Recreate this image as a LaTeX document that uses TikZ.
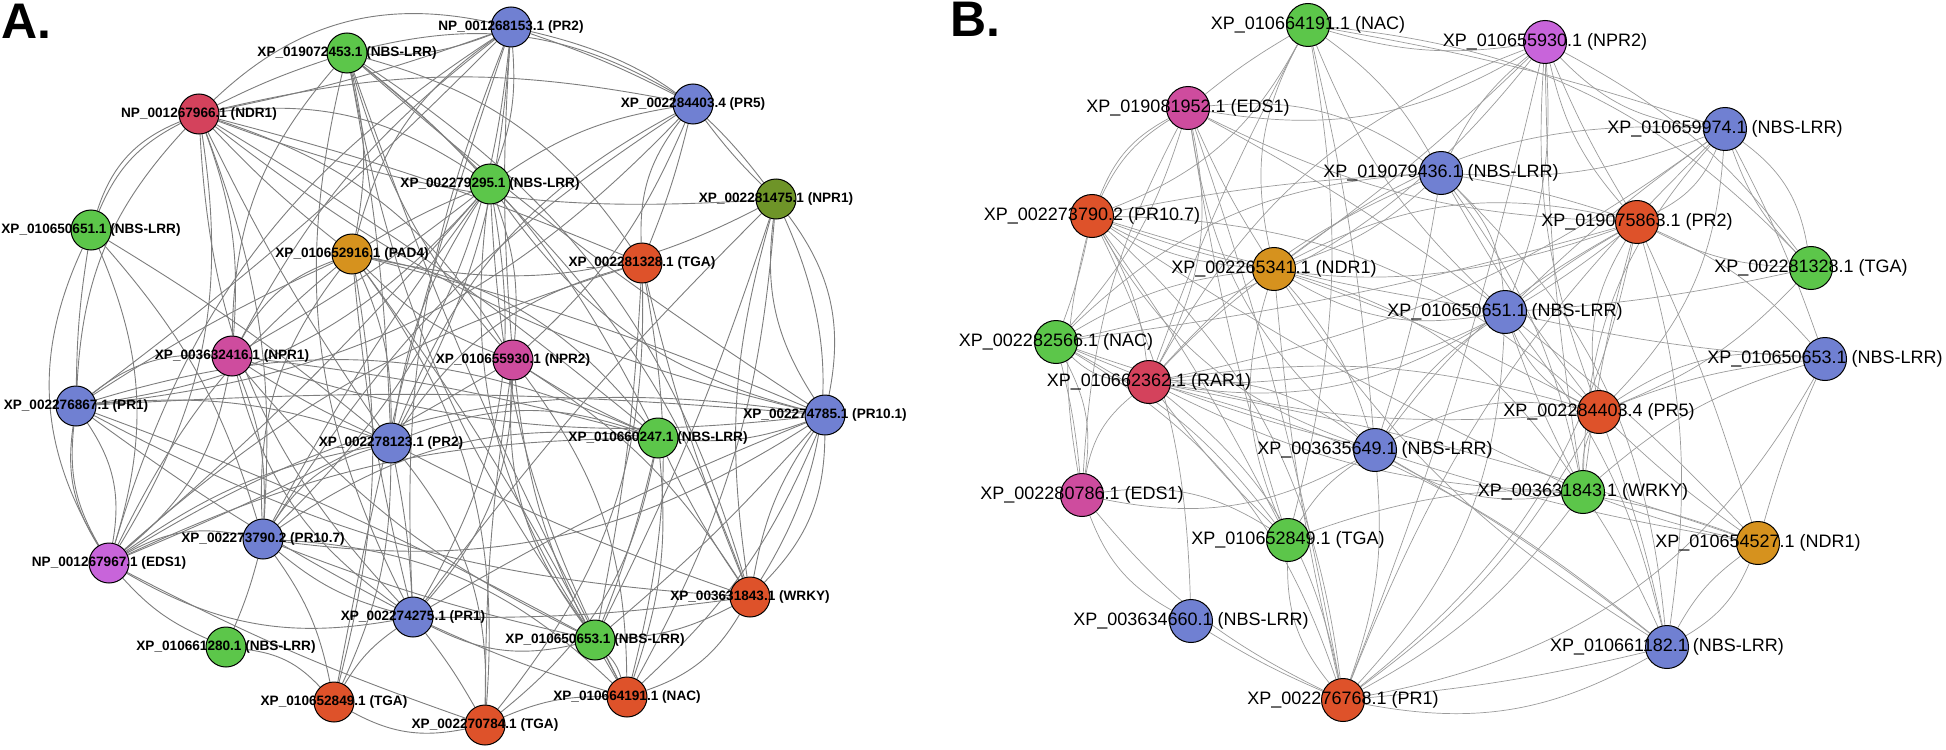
\documentclass[tikz,border=0pt]{standalone}
\usepackage{fontspec}
\setmainfont{Liberation Sans}
\usetikzlibrary{backgrounds}
\definecolor{cblue}{RGB}{112,128,210}
\definecolor{cgreen}{RGB}{92,198,74}
\definecolor{cred}{RGB}{222,82,42}
\definecolor{ccrim}{RGB}{212,66,92}
\definecolor{cmag}{RGB}{206,76,158}
\definecolor{cvio}{RGB}{200,100,218}
\definecolor{cgold}{RGB}{214,146,30}
\definecolor{colive}{RGB}{110,148,40}
\definecolor{aedgec}{RGB}{125,125,125}
\definecolor{bedgec}{RGB}{155,155,155}
\tikzset{
  anode/.style={circle,draw=black,line width=0.5pt,minimum size=20pt,inner sep=0pt},
  bnode/.style={circle,draw=black,line width=0.5pt,minimum size=21.5pt,inner sep=0pt},
  alab/.style={font=\fontsize{6.8}{7}\selectfont\bfseries,inner sep=0pt},
  blab/.style={font=\fontsize{9}{10}\selectfont,inner sep=0pt},
  aedge/.style={draw=aedgec,line width=0.45pt},
  bedge/.style={draw=bedgec,line width=0.35pt},
  panel/.style={font=\fontsize{25}{26}\selectfont\bfseries,inner sep=0pt}
}
\begin{document}
\begin{tikzpicture}[x=0.5pt,y=-0.5pt]
\path[use as bounding box] (0,0) rectangle (1946,749);
\node[panel] (A) at (26.5,21.5) {A.};
\node[panel] (B) at (975,19.5) {B.};
% ---------- Panel A nodes ----------
\foreach \n/\x/\y/\c in {
 a1/347/53/cgreen, a2/511/27/cblue, a3/199/114/ccrim, a4/693/104/cblue,
 a5/490/184/cgreen, a6/91/230/cgreen, a7/776/199/colive, a8/352/254/cgold,
 a9/642/263/cred, a10/232/356/cmag, a11/513/360/cmag, a12/76/406/cblue,
 a13/825/415/cblue, a14/391/443/cblue, a15/658/438/cgreen, a16/263/539/cblue,
 a17/109/563/cvio, a18/750/597/cred, a19/413/617/cblue, a20/595/640/cgreen,
 a21/226/647/cgreen, a22/334/702/cred, a23/627/697/cred, a24/485/725/cred}
{\node[anode,fill=\c] (\n) at (\x,\y) {};}
% ---------- Panel B nodes ----------
\foreach \n/\x/\y/\c in {
 b1/1308/25/cgreen, b2/1545/42/cvio, b3/1188/108/cmag, b4/1725/129/cblue,
 b5/1441/173/cblue, b6/1092/216/cred, b7/1637/222/cred, b8/1274/269/cgold,
 b9/1811/268/cgreen, b10/1505/312/cblue, b11/1056/342/cgreen, b12/1825/359/cblue,
 b13/1149/382/ccrim, b14/1599/412/cred, b15/1375/450/cblue, b16/1082/495/cmag,
 b17/1583/492/cgreen, b18/1288/540/cgreen, b19/1758/543/cgold, b20/1191/621/cblue,
 b21/1667/647/cblue, b22/1343/700/cred}
{\node[bnode,fill=\c] (\n) at (\x,\y) {};}
% ---------- labels ----------
\foreach \n/\t in {
 a1/XP\_019072453.1 (NBS-LRR), a2/NP\_001268153.1 (PR2), a3/NP\_001267966.1 (NDR1),
 a4/XP\_002284403.4 (PR5), a5/XP\_002279295.1 (NBS-LRR), a6/XP\_010650651.1 (NBS-LRR),
 a7/XP\_002281475.1 (NPR1), a8/XP\_010652916.1 (PAD4), a9/XP\_002281328.1 (TGA),
 a10/XP\_003632416.1 (NPR1), a11/XP\_010655930.1 (NPR2), a12/XP\_002276867.1 (PR1),
 a13/XP\_002274785.1 (PR10.1), a14/XP\_002278123.1 (PR2), a15/XP\_010660247.1 (NBS-LRR),
 a16/XP\_002273790.2 (PR10.7), a17/NP\_001267967.1 (EDS1), a18/XP\_003631843.1 (WRKY),
 a19/XP\_002274275.1 (PR1), a20/XP\_010650653.1 (NBS-LRR), a21/XP\_010661280.1 (NBS-LRR),
 a22/XP\_010652849.1 (TGA), a23/XP\_010664191.1 (NAC), a24/XP\_002270784.1 (TGA)}
{\node[alab] (\n t) at (\n) {\t};}
\foreach \n/\t in {
 b1/XP\_010664191.1 (NAC), b2/XP\_010655930.1 (NPR2), b3/XP\_019081952.1 (EDS1),
 b4/XP\_010659974.1 (NBS-LRR), b5/XP\_019079436.1 (NBS-LRR), b6/XP\_002273790.2 (PR10.7),
 b7/XP\_019075863.1 (PR2), b8/XP\_002265341.1 (NDR1), b9/XP\_002281328.1 (TGA),
 b10/XP\_010650651.1 (NBS-LRR), b11/XP\_002282566.1 (NAC), b12/XP\_010650653.1 (NBS-LRR),
 b13/XP\_010662362.1 (RAR1), b14/XP\_002284403.4 (PR5), b15/XP\_003635649.1 (NBS-LRR),
 b16/XP\_002280786.1 (EDS1), b17/XP\_003631843.1 (WRKY), b18/XP\_010652849.1 (TGA),
 b19/XP\_010654527.1 (NDR1), b20/XP\_003634660.1 (NBS-LRR), b21/XP\_010661182.1 (NBS-LRR),
 b22/XP\_002276768.1 (PR1)}
{\node[blab] (\n t) at (\n) {\t};}
% ---------- edges ----------
\begin{pgfonlayer}{background}
\foreach \p/\q [count=\i] in {
 a1/a2,a1/a3,a1/a5,a1/a8,a1/a9,a1/a10,a1/a11,a1/a13,a1/a14,a1/a15,a1/a18,a1/a19,a1/a20,a1/a23,
 a2/a4,a2/a5,a2/a7,a2/a8,a2/a10,a2/a11,a2/a12,a2/a14,a2/a16,a2/a17,a2/a19,a2/a22,a2/a3,
 a3/a4,a3/a5,a3/a6,a3/a7,a3/a8,a3/a9,a3/a10,a3/a11,a3/a12,a3/a13,a3/a14,a3/a15,a3/a16,a3/a17,a3/a19,
 a4/a5,a4/a7,a4/a9,a4/a11,a4/a12,a4/a14,a4/a16,
 a5/a8,a5/a10,a5/a11,a5/a12,a5/a13,a5/a14,a5/a16,a5/a17,a5/a18,a5/a19,a5/a20,a5/a23,
 a6/a12,a6/a14,a6/a16,a6/a17,
 a7/a13,a7/a18,a7/a19,a7/a20,a7/a23,a7/a8,
 a8/a10,a8/a11,a8/a12,a8/a13,a8/a14,a8/a15,a8/a16,a8/a17,a8/a19,a8/a20,a8/a22,a8/a24,
 a9/a14,a9/a17,a9/a18,a9/a20,a9/a23,a9/a24,
 a10/a12,a10/a13,a10/a14,a10/a15,a10/a16,a10/a17,a10/a19,a10/a20,
 a11/a15,a11/a17,a11/a18,a11/a19,a11/a20,a11/a23,a11/a24,
 a12/a13,a12/a14,a12/a15,a12/a17,a12/a18,a12/a19,a12/a20,
 a13/a15,a13/a16,a13/a17,a13/a18,a13/a19,a13/a20,a13/a23,
 a14/a15,a14/a16,a14/a17,a14/a18,a14/a19,a14/a22,a14/a24,
 a15/a16,a15/a17,a15/a18,a15/a20,a15/a23,a15/a24,
 a16/a17,a16/a19,a16/a20,a16/a21,a16/a22,a16/a23,
 a17/a19,a17/a21,a17/a24,a18/a19,a18/a20,a18/a23,
 a19/a20,a19/a22,a19/a23,a19/a24,a20/a23,a21/a22,a22/a24,a23/a24}
{\pgfmathtruncatemacro\bb{mod(\i*7,6)*8-20}
 \draw[aedge] (\p) to[bend left=\bb] (\q);}
\draw[aedge] (a12) to[bend right=18] (a17);
\draw[aedge] (a12) to[bend left=22] (a17);
\draw[aedge] (a13) to[bend left=22] (a18);
\draw[aedge] (a7) to[bend left=24] (a13);
\draw[aedge] (a11) to[bend left=18] (a23);
\draw[aedge] (a4) to[bend right=20] (a9);
\draw[aedge] (a7) to[bend left=28] (a18);
\draw[aedge] (a6) to[bend left=25] (a3);
\draw[aedge] (a1) to[bend left=22] (a4);
\draw[aedge] (a3) to[bend left=28] (a2);
\draw[aedge] (a6) to[bend right=28] (a17);
\foreach \p/\q [count=\i] in {
 b1/b2,b1/b3,b1/b4,b1/b5,b1/b6,b1/b8,b1/b10,b1/b13,b1/b15,b1/b18,
 b2/b3,b2/b4,b2/b5,b2/b7,b2/b8,b2/b10,b2/b11,b2/b13,b2/b14,b2/b17,b2/b22,b2/b9,
 b3/b5,b3/b6,b3/b7,b3/b8,b3/b10,b3/b11,b3/b13,b3/b15,b3/b16,b3/b18,b3/b22,
 b4/b5,b4/b7,b4/b8,b4/b9,b4/b10,b4/b12,b4/b13,b4/b14,b4/b17,b4/b22,
 b5/b6,b5/b7,b5/b8,b5/b10,b5/b11,b5/b13,b5/b14,b5/b15,b5/b17,b5/b21,
 b6/b7,b6/b8,b6/b10,b6/b11,b6/b13,b6/b14,b6/b15,b6/b16,b6/b17,b6/b18,b6/b20,b6/b22,
 b7/b8,b7/b9,b7/b10,b7/b11,b7/b12,b7/b13,b7/b14,b7/b15,b7/b17,b7/b19,b7/b21,b7/b22,
 b8/b10,b8/b11,b8/b13,b8/b14,b8/b15,b8/b17,b8/b18,b8/b21,b8/b22,
 b9/b10,b9/b14,
 b10/b13,b10/b14,b10/b15,b10/b17,b10/b19,b10/b21,b10/b22,
 b11/b13,b11/b14,b11/b15,b11/b16,b11/b18,b11/b22,
 b12/b14,b12/b17,b12/b19,b12/b10,
 b13/b14,b13/b15,b13/b16,b13/b17,b13/b18,b13/b19,b13/b21,b13/b22,
 b14/b15,b14/b17,b14/b19,b14/b21,b14/b22,
 b15/b16,b15/b17,b15/b18,b15/b19,b15/b21,b15/b22,
 b16/b18,b16/b20,b16/b22,b17/b19,b17/b21,b17/b22,
 b18/b19,b18/b22,b19/b21,b20/b22,b21/b22}
{\pgfmathtruncatemacro\bb{mod(\i*7,6)*8-20}
 \draw[bedge] (\p) to[bend left=\bb] (\q);}
\draw[bedge] (b4) to[bend left=22] (b9);
\draw[bedge] (b12) to[bend right=8] (b14);
\draw[bedge] (b3) to[bend right=16] (b6);
\draw[bedge] (b11) to[bend left=18] (b16);
\draw[bedge] (b19) to[bend left=18] (b21);
\draw[bedge] (b21) to[bend left=20] (b22);
\draw[bedge] (b2) to[bend right=14] (b7);
\draw[bedge] (b12) to[bend left=25] (b22);
\draw[bedge] (b1) to[bend left=20] (b9);
\end{pgfonlayer}
\end{tikzpicture}
\end{document}
